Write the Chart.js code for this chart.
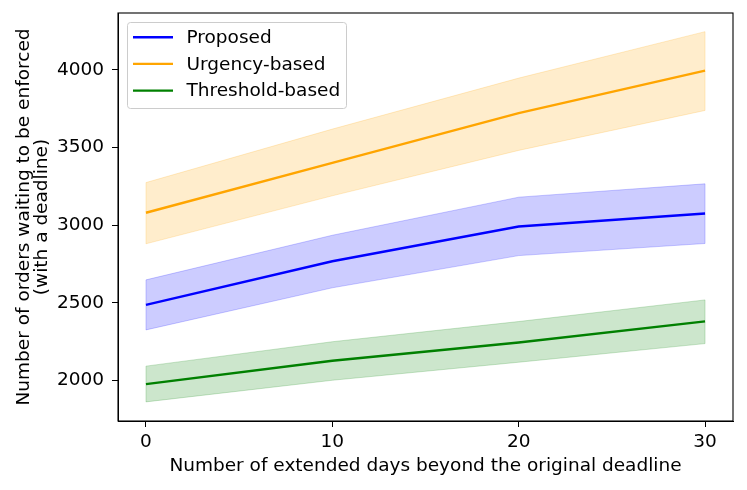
<!DOCTYPE html>
<html>
<head>
<meta charset="utf-8">
<script src="https://cdn.jsdelivr.net/npm/chart.js@4.4.1/dist/chart.umd.min.js"></script>
<style>
  body { margin: 0; background: #fff; }
  #wrap { width: 747px; height: 490px; }
</style>
</head>
<body>
<div id="wrap"><canvas id="chart" width="747" height="490"></canvas></div>
<script>
// extended days
const days = [0, 10, 20, 30];

// mean and band (upper / lower) for each policy
const proposedMean = [2487, 2768, 2991, 3075];
const proposedUpper = [2648, 2935, 3180, 3266];
const proposedLower = [2326, 2597, 2804, 2882];

const urgencyMean = [3080, 3401, 3721, 3994];
const urgencyUpper = [3274, 3618, 3946, 4245];
const urgencyLower = [2880, 3189, 3481, 3738];

const thresholdMean = [1977, 2128, 2245, 2381];
const thresholdUpper = [2093, 2250, 2380, 2519];
const thresholdLower = [1863, 2002, 2118, 2238];

const xTicks = [0, 10, 20, 30];
const yTicks = [2000, 2500, 3000, 3500, 4000];

const FONT = "'DejaVu Sans', sans-serif";
const FSIZE = 18.5;

function pts(values) {
  return values.map((v, i) => ({ x: days[i], y: v }));
}

function meanSet(label, values, color) {
  return {
    label: label,
    data: pts(values),
    borderColor: color,
    borderWidth: 2.4,
    pointRadius: 0,
    fill: false,
    tension: 0,
  };
}

function bandSet(values, rgb, target) {
  return {
    label: "",
    data: pts(values),
    borderColor: "rgba(" + rgb + ",0.2)",
    backgroundColor: "rgba(" + rgb + ",0.2)",
    borderWidth: 1,
    pointRadius: 0,
    fill: target === null ? false : { target: target },
    tension: 0,
  };
}

const legendItems = [
  { label: "Proposed", color: "#0000ff" },
  { label: "Urgency-based", color: "#ffa500" },
  { label: "Threshold-based", color: "#008000" },
];

// frame round the plot, band side edges and the legend box
const framePlugin = {
  id: "frame",
  beforeDatasetsDraw(chart) {
    const ctx = chart.ctx;
    const xs = chart.scales.x;
    const ys = chart.scales.y;
    const bands = [
      [proposedUpper, proposedLower, "0,0,255"],
      [urgencyUpper, urgencyLower, "255,165,0"],
      [thresholdUpper, thresholdLower, "0,128,0"],
    ];
    ctx.save();
    ctx.lineWidth = 1;
    bands.forEach((b) => {
      ctx.strokeStyle = "rgba(" + b[2] + ",0.2)";
      [0, days.length - 1].forEach((i) => {
        const px = xs.getPixelForValue(days[i]);
        ctx.beginPath();
        ctx.moveTo(px, ys.getPixelForValue(b[0][i]));
        ctx.lineTo(px, ys.getPixelForValue(b[1][i]));
        ctx.stroke();
      });
    });
    ctx.restore();
  },
  afterDraw(chart) {
    const ctx = chart.ctx;
    const a = chart.chartArea;
    ctx.save();
    ctx.strokeStyle = "#000";
    ctx.lineWidth = 1.1;
    ctx.strokeRect(a.left, a.top, a.right - a.left, a.bottom - a.top);

    // legend
    const bx = a.left + 9.5, by = a.top + 9.5, bw = 219, bh = 86, r = 3;
    ctx.fillStyle = "rgba(255,255,255,0.8)";
    ctx.strokeStyle = "#cccccc";
    ctx.lineWidth = 1;
    ctx.beginPath();
    ctx.roundRect(bx, by, bw, bh, r);
    ctx.fill();
    ctx.stroke();

    ctx.font = FSIZE + "px " + FONT;
    ctx.textBaseline = "middle";
    ctx.textAlign = "left";
    legendItems.forEach((it, i) => {
      const cy = by + 14.7 + i * 26.7;
      ctx.strokeStyle = it.color;
      ctx.lineWidth = 2.4;
      ctx.beginPath();
      ctx.moveTo(bx + 5.5, cy);
      ctx.lineTo(bx + 45.5, cy);
      ctx.stroke();
      ctx.fillStyle = "#000";
      ctx.fillText(it.label, bx + 59, cy + 1);
    });
    ctx.restore();
  },
};

new Chart(document.getElementById("chart"), {
  type: "line",
  data: {
    datasets: [
      meanSet("Proposed", proposedMean, "#0000ff"),
      meanSet("Urgency-based", urgencyMean, "#ffa500"),
      meanSet("Threshold-based", thresholdMean, "#008000"),
      bandSet(proposedUpper, "0,0,255", 4),
      bandSet(proposedLower, "0,0,255", null),
      bandSet(urgencyUpper, "255,165,0", 6),
      bandSet(urgencyLower, "255,165,0", null),
      bandSet(thresholdUpper, "0,128,0", 8),
      bandSet(thresholdLower, "0,128,0", null),
    ],
  },
  options: {
    responsive: false,
    animation: false,
    layout: { padding: { top: 13, right: 14, left: 0, bottom: 0 } },
    plugins: {
      legend: { display: false },
      tooltip: { enabled: false },
    },
    scales: {
      x: {
        type: "linear",
        min: -1.5,
        max: 31.5,
        afterBuildTicks: (s) => { s.ticks = xTicks.map((v) => ({ value: v })); },
        afterFit: (s) => { s.height = 69; s.paddingLeft = 0; s.paddingRight = 0; },
        grid: { drawOnChartArea: false, drawTicks: true, tickLength: 6, color: "#000" },
        border: { display: true, color: "#000" },
        ticks: {
          color: "#000",
          font: { family: FONT, size: FSIZE },
          padding: 4,
          maxRotation: 0,
          callback: (v) => String(v),
        },
        title: {
          display: true,
          text: "Number of extended days beyond the original deadline",
          color: "#000",
          font: { family: FONT, size: FSIZE },
          padding: { top: 0, bottom: 12.5 },
        },
      },
      y: {
        min: 1740,
        max: 4365,
        afterBuildTicks: (s) => { s.ticks = yTicks.map((v) => ({ value: v })); },
        afterFit: (s) => { s.width = 118; s.paddingTop = 0; s.paddingBottom = 0; },
        grid: { drawOnChartArea: false, drawTicks: true, tickLength: 6, color: "#000" },
        border: { display: true, color: "#000" },
        ticks: {
          color: "#000",
          font: { family: FONT, size: FSIZE },
          padding: 8,
          callback: (v) => String(v),
        },
        title: {
          display: true,
          text: ["Number of orders waiting to be enforced", "(with a deadline)"],
          color: "#000",
          font: { family: FONT, size: FSIZE, lineHeight: 1.0 },
          padding: { top: 14.5, bottom: 0 },
        },
      },
    },
  },
  plugins: [framePlugin],
});
</script>
</body>
</html>
